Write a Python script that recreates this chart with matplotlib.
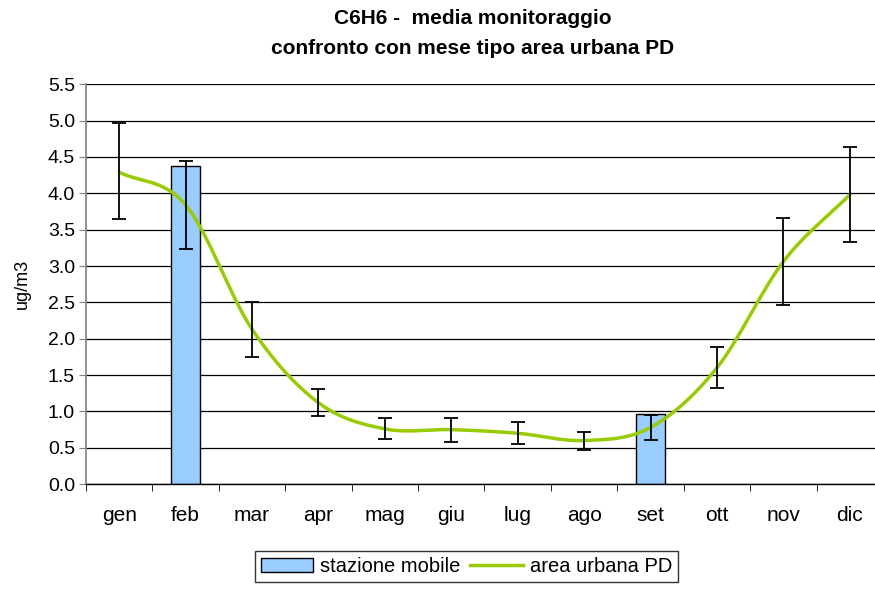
import numpy as np
import matplotlib
matplotlib.use("Agg")
import matplotlib.pyplot as plt
from matplotlib.lines import Line2D
from matplotlib.patches import Patch

plt.rcParams['font.family'] = ['Liberation Sans', 'DejaVu Sans']

months = ["gen", "feb", "mar", "apr", "mag", "giu", "lug", "ago", "set", "ott", "nov", "dic"]
# stazione mobile (bars); NaN where no campaign
station = [np.nan, 4.37, np.nan, np.nan, np.nan, np.nan, np.nan, np.nan, 0.97, np.nan, np.nan, np.nan]
# area urbana PD monthly typical values
urban = [4.29, 3.84, 2.13, 1.12, 0.76, 0.75, 0.70, 0.60, 0.78, 1.60, 3.06, 3.98]
err_low = [3.64, 3.23, 1.75, 0.94, 0.62, 0.58, 0.55, 0.47, 0.61, 1.32, 2.47, 3.33]
err_high = [4.96, 4.44, 2.50, 1.31, 0.91, 0.91, 0.85, 0.72, 0.95, 1.89, 3.66, 4.63]
yticks = [0.0, 0.5, 1.0, 1.5, 2.0, 2.5, 3.0, 3.5, 4.0, 4.5, 5.0, 5.5]


def catmull_rom(x, y, n=30):
    x = np.asarray(x, float)
    y = np.asarray(y, float)
    px = np.concatenate([[2 * x[0] - x[1]], x, [2 * x[-1] - x[-2]]])
    py = np.concatenate([[2 * y[0] - y[1]], y, [2 * y[-1] - y[-2]]])
    xs, ys = [], []
    for i in range(1, len(px) - 2):
        t = np.linspace(0, 1, n, endpoint=False)
        for p, out in ((px, xs), (py, ys)):
            p0, p1, p2, p3 = p[i - 1], p[i], p[i + 1], p[i + 2]
            out.extend(0.5 * ((2 * p1) + (-p0 + p2) * t +
                              (2 * p0 - 5 * p1 + 4 * p2 - p3) * t ** 2 +
                              (-p0 + 3 * p1 - 3 * p2 + p3) * t ** 3))
    xs.append(x[-1])
    ys.append(y[-1])
    return np.array(xs), np.array(ys)


fig = plt.figure(figsize=(8.75, 5.89), dpi=100)
ax = fig.add_axes([0.0983, 0.178, 0.9017, 0.679])

x = np.arange(len(months))
ax.bar(x, station, width=0.43, color="#99CCFF", edgecolor="black", linewidth=1.0, zorder=2)

sx, sy = catmull_rom(x, urban)
ax.plot(sx, sy, color="#99CC00", linewidth=2.5, zorder=3, solid_capstyle="round")

urban_a = np.array(urban)
yerr = np.vstack([urban_a - np.array(err_low), np.array(err_high) - urban_a])
ax.errorbar(x, urban_a, yerr=yerr, fmt="none", ecolor="black", elinewidth=1.3,
            capsize=5, capthick=1.3, zorder=4)

ax.set_xlim(-0.5, 11.38)
ax.set_ylim(0, 5.5)
ax.set_yticks(yticks)
ax.set_yticklabels([f"{v:.1f}" for v in yticks], fontsize=14)
ax.set_xticks(x)
ax.set_xticklabels(months, fontsize=15)
ax.set_xticks(np.arange(-0.5, 11.5, 1.0), minor=True)
ax.tick_params(axis="x", which="major", length=0, pad=16)
ax.tick_params(axis="x", which="minor", length=5, direction="out", color="black")
ax.tick_params(axis="y", length=5, direction="out", color="#808080", pad=3)

ax.grid(axis="y", color="black", linewidth=0.9, zorder=0)
ax.set_axisbelow(True)
for s in ["top", "right"]:
    ax.spines[s].set_visible(False)
ax.spines["left"].set_color("#808080")
ax.spines["left"].set_linewidth(1.2)
ax.spines["bottom"].set_color("black")
ax.spines["bottom"].set_linewidth(1.0)

ax.set_ylabel("ug/m3", fontsize=13, labelpad=12)

fig.text(0.54, 0.969, "C6H6 -  media monitoraggio", ha="center", va="center",
         fontsize=15, fontweight="bold")
fig.text(0.54, 0.918, "confronto con mese tipo area urbana PD", ha="center", va="center",
         fontsize=15, fontweight="bold")

handles = [Patch(facecolor="#99CCFF", edgecolor="black", linewidth=1.0),
           Line2D([], [], color="#99CC00", linewidth=2.5)]
leg = fig.legend(handles, ["stazione mobile", "area urbana PD"], loc="upper center",
                 bbox_to_anchor=(0.533, 0.064), ncol=2, fontsize=14.5, frameon=True,
                 fancybox=False, edgecolor="black", borderpad=0.3, columnspacing=0.5,
                 handlelength=2.6, handletextpad=0.35, borderaxespad=0)
leg.get_frame().set_linewidth(1.0)

fig.savefig("out.png", dpi=100)
